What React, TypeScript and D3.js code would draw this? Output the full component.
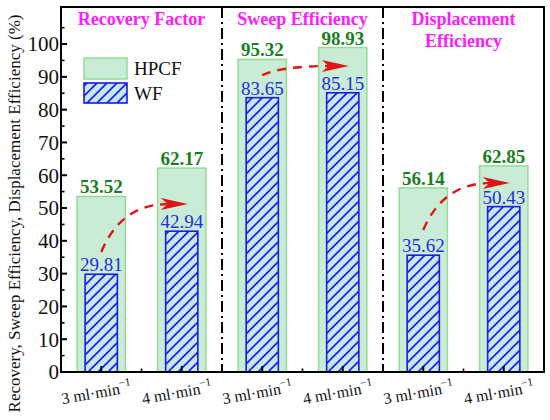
import React, { useEffect } from 'react';
import * as d3 from 'd3';

const categories = ['RF-3', 'RF-4', 'SE-3', 'SE-4', 'DE-3', 'DE-4'];
const rateLabels = ['3', '4', '3', '4', '3', '4'];
const hpcf = [53.52, 62.17, 95.32, 98.93, 56.14, 62.85];
const wf = [29.81, 42.94, 83.65, 85.15, 35.62, 50.43];
const panelTitles = [['Recovery Factor'], ['Sweep Efficiency'], ['Displacement', 'Efficiency']];
// trend arrows: value where the dashed curve starts (over the 3 ml bar) and where it points (at the 4 ml bar)
const arrowFrom = [36.6, 90.5, 43.3];
const arrowTo = [51.2, 93.3, 57.6];
const yTicks = d3.range(0, 101, 10);
const yMinor = d3.range(5, 111, 10);

const W = 550;
const H = 420;
const margin = { top: 7, right: 6, bottom: 48, left: 61 };
const FONT = 'Liberation Serif';

const HPCF_FILL = '#c9ecd6';
const HPCF_STROKE = '#93de93';
const WF_FILL = '#c4e8ef';
const WF_STROKE = '#1a1aee';
const GREEN = '#17801c';
const BLUE = '#1f2fe0';
const RED = '#dd1515';
const MAGENTA = '#ff1aff';

export default function App() {
  useEffect(() => {
    document.body.style.margin = '0';
  }, []);

  const x = d3.scaleBand<string>()
    .domain(categories)
    .range([margin.left, W - margin.right])
    .padding(0);
  const y = d3.scaleLinear()
    .domain([0, 111.3])
    .range([H - margin.bottom, margin.top]);

  const bw = x.bandwidth();
  const cx = (i: number) => (x(categories[i]) as number) + bw / 2;
  const y0 = y(0);
  const top = margin.top;
  const right = W - margin.right;

  const arrows = arrowFrom.map((v, k) => {
    const x0 = cx(k * 2);
    const y1 = y(v);
    const tipX = cx(k * 2 + 1) + 6;
    const tipY = y(arrowTo[k]);
    const endX = tipX - 20;
    const ctrlX = x0 + (endX - x0) * 0.3;
    const path = d3.path();
    path.moveTo(x0, y1);
    path.quadraticCurveTo(ctrlX, tipY, endX, tipY);
    const head = `M${tipX},${tipY} L${tipX - 27},${tipY - 6} L${tipX - 20},${tipY} L${tipX - 27},${tipY + 6} Z`;
    return { d: path.toString(), head };
  });

  return (
    <svg width={W} height={H} fontFamily={FONT}>
      <defs>
        <pattern id="hatch" patternUnits="userSpaceOnUse" width={10} height={10}>
          <rect width={10} height={10} fill={WF_FILL} />
          <path d="M0,10 L10,0 M-2.5,2.5 L2.5,-2.5 M7.5,12.5 L12.5,7.5" stroke={WF_STROKE} strokeWidth={1.6} />
        </pattern>
      </defs>
      <rect width={W} height={H} fill="#fff" />

      {/* bars */}
      {categories.map((c, i) => {
        const hw = bw * 0.6;
        const ww = bw * 0.4;
        return (
          <g key={c}>
            <rect x={cx(i) - hw / 2} y={y(hpcf[i])} width={hw} height={y0 - y(hpcf[i])}
              fill={HPCF_FILL} stroke={HPCF_STROKE} strokeWidth={1.5} />
            <rect x={cx(i) - ww / 2} y={y(wf[i])} width={ww} height={y0 - y(wf[i])}
              fill="url(#hatch)" stroke={WF_STROKE} strokeWidth={1.6} />
            <text x={cx(i)} y={y(hpcf[i]) - 3} textAnchor="middle" fontSize={19} fontWeight="bold" fill={GREEN} fontFamily={FONT}>
              {hpcf[i].toFixed(2)}
            </text>
            <text x={cx(i)} y={y(wf[i]) - 3} textAnchor="middle" fontSize={19} fill={BLUE} fontFamily={FONT}>
              {wf[i].toFixed(2)}
            </text>
          </g>
        );
      })}

      {/* trend arrows */}
      {arrows.map((a, k) => (
        <g key={k}>
          <path d={a.d} fill="none" stroke={RED} strokeWidth={2.4} strokeDasharray="9,7" />
          <path d={a.head} fill={RED} />
        </g>
      ))}

      {/* panel dividers */}
      {[2, 4].map(i => {
        const xd = x(categories[i]) as number;
        return <line key={i} x1={xd} x2={xd} y1={top} y2={y0} stroke="#000" strokeWidth={2} strokeDasharray="11,4,2,4" />;
      })}

      {/* panel titles */}
      {panelTitles.map((lines, k) => {
        const px = (x(categories[k * 2]) as number) + bw;
        return lines.map((t, j) => (
          <text key={`${k}-${j}`} x={px} y={25 + j * 22} textAnchor="middle" fontSize={18} fontWeight="bold" fill={MAGENTA} fontFamily={FONT}>
            {t}
          </text>
        ));
      })}

      {/* legend */}
      <rect x={84} y={58} width={43} height={21} fill={HPCF_FILL} stroke={HPCF_STROKE} strokeWidth={1.5} />
      <text x={134} y={75} fontSize={19} fill="#111" fontFamily={FONT}>HPCF</text>
      <rect x={84} y={83} width={43} height={20} fill="url(#hatch)" stroke={WF_STROKE} strokeWidth={1.6} />
      <text x={134} y={100} fontSize={19} fill="#111" fontFamily={FONT}>WF</text>

      {/* frame */}
      <rect x={margin.left} y={top} width={right - margin.left} height={y0 - top} fill="none" stroke="#000" strokeWidth={2} />

      {/* y axis ticks */}
      {yTicks.map(t => (
        <g key={t}>
          <line x1={margin.left} x2={margin.left + 6} y1={y(t)} y2={y(t)} stroke="#000" strokeWidth={2} />
          <text x={59} y={y(t)} dy="0.35em" textAnchor="end" fontSize={21} fill="#111" fontFamily={FONT}>{t}</text>
        </g>
      ))}
      {yMinor.map(t => (
        <line key={t} x1={margin.left} x2={margin.left + 3.5} y1={y(t)} y2={y(t)} stroke="#000" strokeWidth={1.6} />
      ))}

      {/* x axis ticks */}
      {categories.map((c, i) => (
        <line key={c} x1={cx(i)} x2={cx(i)} y1={y0} y2={y0 - 6} stroke="#000" strokeWidth={2} />
      ))}
      {d3.range(1, categories.length).map(i => (
        <line key={i} x1={(x(categories[i]) as number)} x2={(x(categories[i]) as number)} y1={y0} y2={y0 - 3.5}
          stroke="#000" strokeWidth={1.6} />
      ))}
      {categories.map((c, i) => (
        <text key={c} transform={`translate(${cx(i) - 4},${y0 + 26}) rotate(-10)`} textAnchor="middle" fontSize={16} fill="#111" fontFamily={FONT}>
          {`${rateLabels[i]} ml·min`}
          <tspan dy={-7} fontSize={11}>−1</tspan>
        </text>
      ))}

      {/* y axis title */}
      <text transform={`translate(20,${(top + H) / 2}) rotate(-90)`} textAnchor="middle" fontSize={17} fill="#111" fontFamily={FONT}>
        Recovery, Sweep Efficiency, Displacement Efficiency (%)
      </text>
    </svg>
  );
}
